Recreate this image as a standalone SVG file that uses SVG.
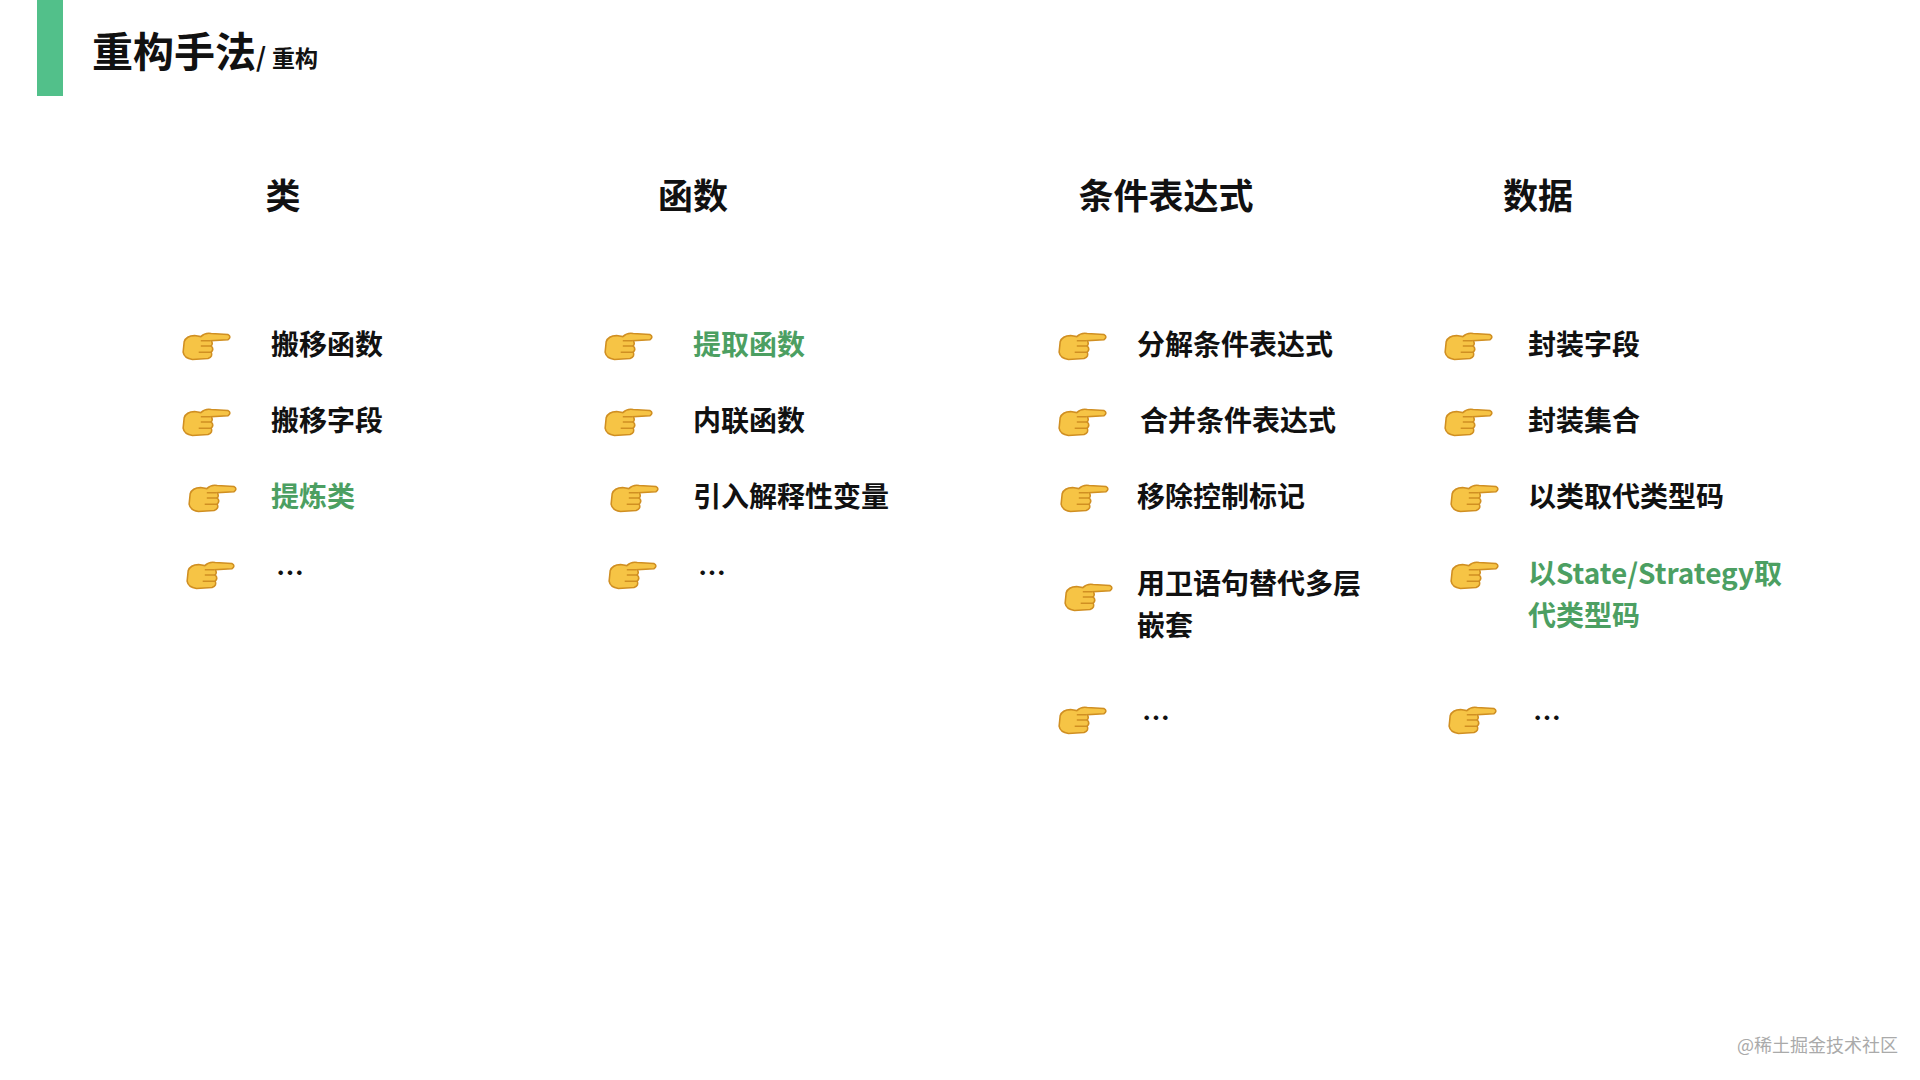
<svg xmlns="http://www.w3.org/2000/svg" width="1920" height="1080" viewBox="0 0 1920 1080">
<style>
text{font-family:"Noto Sans CJK SC","Liberation Sans",sans-serif;font-weight:700;fill:#111}
.h{font-size:35px;text-anchor:middle}
.i{font-size:28px}
.g{fill:#4c9f62}
</style>
<defs>
<symbol id="hand" viewBox="0 0 50 36">
<path d="M4 14 Q6 8 14 8 L20 9 Q24 5 30 6 L46 7 Q50 9 46 12 L30 13 Q32 16 30 18 Q33 21 30 24 Q32 28 27 30 L12 31 Q4 30 3 24 Z" fill="#f6c445" stroke="#d08f22" stroke-width="1.5"/>
<path d="M20 13 L29 13 M20 18 L30 18 M18 24 L30 24" stroke="#d08f22" stroke-width="1.3" fill="none"/>
</symbol>
</defs>
<rect x="37" y="0" width="26" height="96" fill="#52c08a"/>
<text x="92" y="67" style="font-size:41px">重构手法<tspan style="font-size:26px">/ </tspan><tspan style="font-size:23px">重构</tspan></text>
<g id="headers">
<text class="h" x="283" y="209">类</text>
<text class="h" x="693" y="209">函数</text>
<text class="h" x="1166" y="209">条件表达式</text>
<text class="h" x="1538" y="209">数据</text>
</g>
<g id="col1">
<use href="#hand" x="180" y="327" width="52" height="38"/><text class="i" x="271" y="355">搬移函数</text>
<use href="#hand" x="180" y="403" width="52" height="38"/><text class="i" x="271" y="431">搬移字段</text>
<use href="#hand" x="186" y="479" width="52" height="38"/><text class="i g" x="271" y="507">提炼类</text>
<use href="#hand" x="184" y="556" width="52" height="38"/><text class="i" x="276" y="584">…</text>
</g>
<g id="col2">
<use href="#hand" x="602" y="327" width="52" height="38"/><text class="i g" x="693" y="355">提取函数</text>
<use href="#hand" x="602" y="403" width="52" height="38"/><text class="i" x="693" y="431">内联函数</text>
<use href="#hand" x="608" y="479" width="52" height="38"/><text class="i" x="693" y="507">引入解释性变量</text>
<use href="#hand" x="606" y="556" width="52" height="38"/><text class="i" x="698" y="584">…</text>
</g>
<g id="col3">
<use href="#hand" x="1056" y="327" width="52" height="38"/><text class="i" x="1137" y="355">分解条件表达式</text>
<use href="#hand" x="1056" y="403" width="52" height="38"/><text class="i" x="1140" y="431">合并条件表达式</text>
<use href="#hand" x="1058" y="479" width="52" height="38"/><text class="i" x="1137" y="507">移除控制标记</text>
<use href="#hand" x="1062" y="578" width="52" height="38"/><text class="i" x="1137" y="594">用卫语句替代多层</text><text class="i" x="1137" y="636">嵌套</text>
<use href="#hand" x="1056" y="701" width="52" height="38"/><text class="i" x="1142" y="729">…</text>
</g>
<g id="col4">
<use href="#hand" x="1442" y="327" width="52" height="38"/><text class="i" x="1528" y="355">封装字段</text>
<use href="#hand" x="1442" y="403" width="52" height="38"/><text class="i" x="1528" y="431">封装集合</text>
<use href="#hand" x="1448" y="479" width="52" height="38"/><text class="i" x="1528" y="507">以类取代类型码</text>
<use href="#hand" x="1448" y="556" width="52" height="38"/><text class="i g" x="1528" y="584">以State/Strategy取</text><text class="i g" x="1528" y="626">代类型码</text>
<use href="#hand" x="1446" y="701" width="52" height="38"/><text class="i" x="1533" y="729">…</text>
</g>
<text x="1898" y="1052" text-anchor="end" style="font-size:18px;font-weight:400;fill:#aaa">@稀土掘金技术社区</text>
</svg>
